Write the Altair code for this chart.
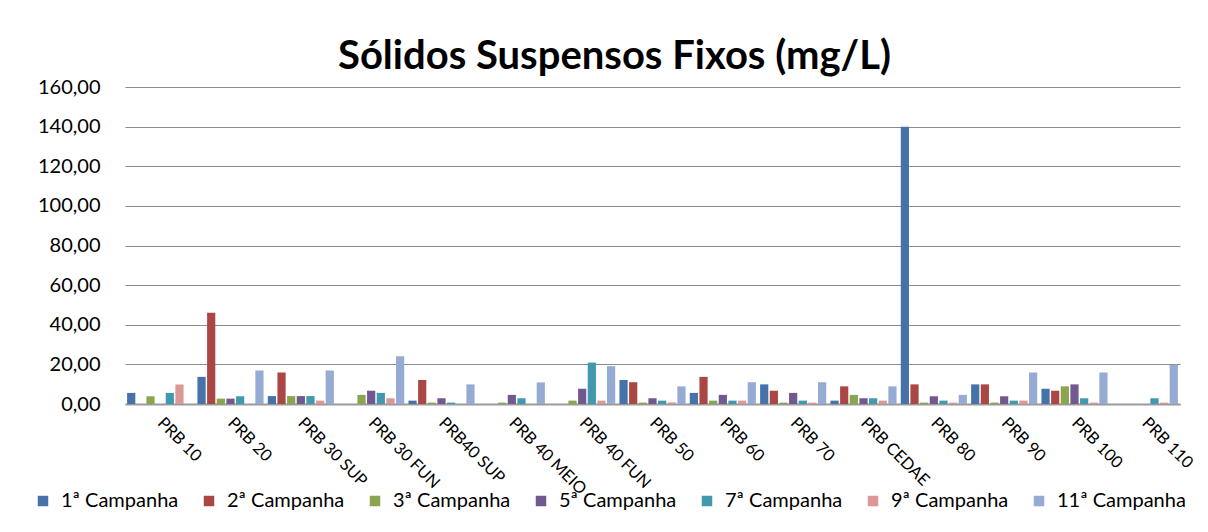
import altair as alt
import pandas as pd

stations = ["PRB 10", "PRB 20", "PRB 30 SUP", "PRB 30 FUN", "PRB40 SUP", "PRB 40 MEIO",
            "PRB 40 FUN", "PRB 50", "PRB 60", "PRB 70", "PRB CEDAE", "PRB 80", "PRB 90",
            "PRB 100", "PRB 110"]
campaigns = ["1ª Campanha", "2ª Campanha", "3ª Campanha", "5ª Campanha",
             "7ª Campanha", "9ª Campanha", "11ª Campanha"]
colors = ["#4672AA", "#AA4643", "#89A54E", "#71588F", "#4198AF", "#DB9896", "#95ABD3"]

c1 = [5.6, 13.7, 4.0, 0, 1.7, 0, 0, 12.1, 5.6, 9.9, 1.7, 140.0, 9.9, 7.7, 0]
c2 = [0, 46.0, 15.9, 0, 12.1, 0, 0, 11.0, 13.7, 6.7, 8.9, 9.9, 9.9, 6.7, 0]
c3 = [3.9, 2.7, 4.0, 4.6, 0.7, 0.7, 1.7, 0.7, 1.7, 0.7, 4.6, 0.7, 0.7, 8.9, 0]
c5 = [0, 2.7, 4.0, 6.7, 2.9, 4.6, 7.7, 2.9, 4.6, 5.6, 2.9, 3.9, 3.9, 9.9, 0]
c7 = [5.6, 3.9, 4.0, 5.6, 0.7, 2.9, 20.9, 1.7, 1.7, 1.7, 2.9, 1.7, 1.7, 2.9, 2.9]
c9 = [9.9, 0, 1.7, 2.9, 0, 0, 1.7, 0.8, 1.7, 0.7, 1.7, 0.7, 1.7, 0.7, 0.7]
c11 = [0, 16.9, 16.9, 24.1, 9.9, 10.9, 19.1, 8.9, 11.0, 11.0, 8.9, 4.6, 15.9, 15.9, 19.8]

series = [c1, c2, c3, c5, c7, c9, c11]
rows = []
for camp, vals in zip(campaigns, series):
    for st, v in zip(stations, vals):
        rows.append({"station": st, "campaign": camp, "value": v})
df = pd.DataFrame(rows)

FONT = "Lato"

bars = alt.Chart(df).transform_filter("datum.value > 0").mark_bar().encode(
    x=alt.X("station:N", sort=stations, title=None,
            scale=alt.Scale(paddingInner=0.06, paddingOuter=0.03),
            axis=alt.Axis(labelAngle=45, labelAlign="left", labelBaseline="middle",
                          labelPadding=16, ticks=False, domain=True, domainColor="#9a9a9a",
                          domainWidth=2, labelFont=FONT, labelFontSize=16.5, labelColor="#000",
                          grid=False)),
    xOffset=alt.XOffset("campaign:N", sort=campaigns,
                        scale=alt.Scale(paddingInner=0.15, paddingOuter=0.0)),
    y=alt.Y("value:Q", title=None,
            scale=alt.Scale(domain=[0, 160], nice=False),
            axis=alt.Axis(values=list(range(0, 161, 20)), domain=False, ticks=False, tickSize=0,
                          labelPadding=25, labelFont=FONT, labelFontSize=20, labelColor="#000",
                          labelExpr="replace(format(datum.value, '.2f'), '.', ',')",
                          grid=True, gridColor="#8c8c8c", gridWidth=1)),
    color=alt.Color("campaign:N", sort=campaigns,
                    scale=alt.Scale(domain=campaigns, range=colors),
                    legend=alt.Legend(title=None, orient="none", direction="horizontal",
                                      legendX=-92, legendY=404, symbolType="square",
                                      symbolSize=110, symbolStrokeWidth=0,
                                      labelFont=FONT, labelFontSize=20, labelColor="#000",
                                      labelOffset=8, columnPadding=20)),
)

chart = bars.properties(
    width=1055, height=317,
    autosize=alt.AutoSizeParams(type="none"),
    padding={"left": 117, "top": 79, "right": 20, "bottom": 120},
    title=alt.TitleParams("Sólidos Suspensos Fixos (mg/L)", font=FONT, fontSize=40,
                          fontWeight="bold", color="#000", anchor="middle", dx=-38,
                          offset=0),
).configure(background="white").configure_view(strokeWidth=0)

chart.save("out.html", embed_options={"renderer": "svg", "actions": False})
